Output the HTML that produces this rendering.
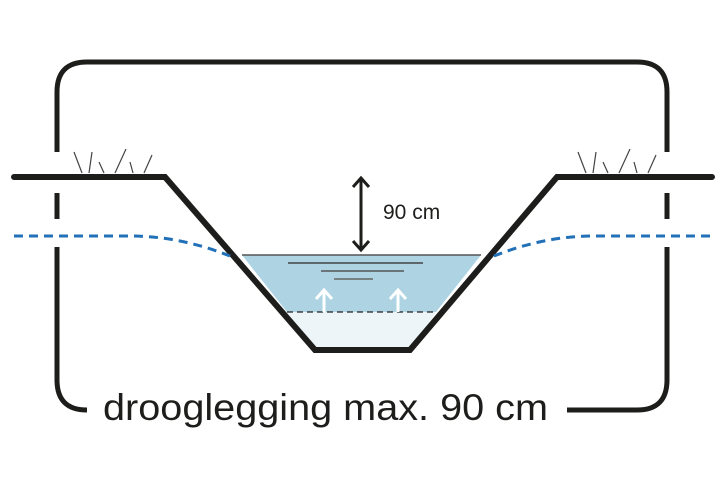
<!DOCTYPE html>
<html><head><meta charset="utf-8"><style>
html,body{margin:0;padding:0;background:#fff;width:720px;height:480px;overflow:hidden}
</style></head><body>
<svg width="720" height="480" viewBox="0 0 720 480" xmlns="http://www.w3.org/2000/svg">
<polygon points="242,255 481,255 436,312 287,312" fill="#aed4e3"/>
<polygon points="287,312 436,312 410,350 315,350" fill="#edf5f9"/>
<line x1="242" y1="255" x2="481" y2="255" stroke="#555" stroke-width="1.5"/>
<line x1="288" y1="263" x2="423" y2="263" stroke="#444" stroke-width="1.5"/>
<line x1="321" y1="271" x2="404" y2="271" stroke="#555" stroke-width="1.5"/>
<line x1="334" y1="279" x2="373" y2="279" stroke="#666" stroke-width="1.5"/>
<line x1="287" y1="312" x2="436" y2="312" stroke="#222" stroke-width="1.2" stroke-dasharray="6,4"/>
<g stroke="#fff" stroke-width="3" fill="none">
<path d="M324 312 V290 M316 299 L324 290 L332 299"/>
<path d="M398 312 V290 M390 299 L398 290 L406 299"/>
</g>
<g stroke="#1d1d1b" stroke-width="5" fill="none" stroke-linecap="butt">
<path d="M57 152 V92 Q57 62 87 62 H637 Q667 62 667 92 V152"/>
<path d="M57 193 V219"/><path d="M57 247 V380 Q57 410 87 410"/>
<path d="M667 193 V219"/><path d="M667 247 V380 Q667 410 637 410 H567"/>
</g>
<path d="M14 177 H165 L315 350 H410 L557 177 H712" stroke="#1d1d1b" stroke-width="6" fill="none" stroke-linecap="round" stroke-linejoin="miter"/>
<path d="M14 236 H130 Q180 236 230 256" stroke="#2170b8" stroke-width="3" fill="none" stroke-dasharray="9,6"/>
<path d="M710 236 H594 Q544 236 494 256" stroke="#2170b8" stroke-width="3" fill="none" stroke-dasharray="9,6"/>
<g stroke="#444" stroke-width="1.2">
<path d="M74 152 L82 173 M92 152 L89 173 M99 162 L104 173 M126 149 L115 173 M130 162 L133 173 M152 155 L144 173"/>
<path d="M578 152 L586 173 M596 152 L593 173 M603 162 L608 173 M630 149 L619 173 M634 162 L637 173 M656 155 L648 173"/>
</g>
<g stroke="#1d1d1b" stroke-width="3" fill="none">
<path d="M361 180 V248"/><path d="M353 187 L361 178 L369 187"/><path d="M353 241 L361 250 L369 241"/>
</g>
<text x="383" y="219" font-family="Liberation Sans, sans-serif" font-size="21" fill="#1d1d1b">90 cm</text>
<text x="103" y="420" font-family="Liberation Sans, sans-serif" font-size="37" fill="#1d1d1b" textLength="445" lengthAdjust="spacingAndGlyphs">drooglegging max. 90 cm</text>
</svg>
</body></html>
